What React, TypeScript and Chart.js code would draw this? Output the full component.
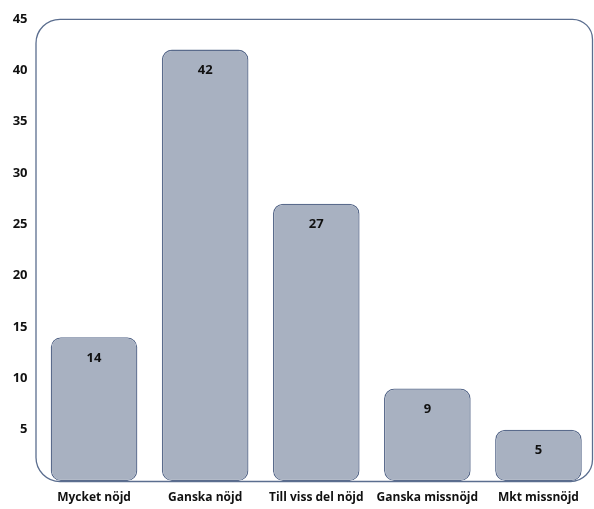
import React, { useEffect, useRef } from "react";
import { Chart, registerables } from "chart.js";

Chart.register(...registerables);

const categories = ["Mycket nöjd", "Ganska nöjd", "Till viss del nöjd", "Ganska missnöjd", "Mkt missnöjd"];
const values = [14, 42, 27, 9, 5];
const yTicks = [0, 5, 10, 15, 20, 25, 30, 35, 40, 45];

const FONT = "'Open Sans', 'DejaVu Sans', sans-serif";

const framePlugin = {
  id: "frame",
  beforeDatasetsDraw(chart: any) {
    const { ctx, chartArea } = chart;
    const l = chartArea.left - 2.5;
    const r = chartArea.right - 1.5;
    const t = chartArea.top + 0.5;
    const b = chartArea.bottom + 0.5;
    ctx.save();
    ctx.strokeStyle = "#5b6e8f";
    ctx.lineWidth = 1.3;
    ctx.beginPath();
    ctx.roundRect(l, t, r - l, b - t, [24, 20, 22, 24]);
    ctx.stroke();
    ctx.restore();
  },
};

const labelPlugin = {
  id: "vlabels",
  afterDatasetsDraw(chart: any) {
    const { ctx } = chart;
    const meta = chart.getDatasetMeta(0);
    ctx.save();
    ctx.font = `700 13px ${FONT}`;
    ctx.fillStyle = "#111";
    ctx.textAlign = "center";
    ctx.textBaseline = "middle";
    meta.data.forEach((bar: any, i: number) => {
      ctx.fillText(String(values[i]), bar.x, bar.y + 21);
    });
    ctx.restore();
  },
};

export default function App() {
  const ref = useRef<HTMLCanvasElement>(null);
  useEffect(() => {
    document.body.style.margin = "0";
    const chart = new Chart(ref.current!, {
      type: "bar",
      data: {
        labels: categories,
        datasets: [
          {
            data: values,
            backgroundColor: "#a8b1c1",
            borderColor: "#5a6b8c",
            borderWidth: 1.3,
            borderRadius: 10,
            borderSkipped: false,
            categoryPercentage: 1,
            barPercentage: 0.78,
          },
        ],
      },
      options: {
        responsive: false,
        animation: false,
        layout: { padding: { top: 17, right: 0, left: 0, bottom: 0 } },
        plugins: { legend: { display: false }, tooltip: { enabled: false } },
        scales: {
          x: {
            grid: { display: false, drawTicks: false },
            border: { display: false },
            ticks: {
              color: "#111",
              font: { family: FONT, size: 12, weight: "700" },
              padding: 9,
              maxRotation: 0,
              autoSkip: false,
            },
            afterFit(scale: any) {
              scale.height = 28;
            },
          },
          y: {
            min: 0,
            max: 45,
            afterBuildTicks(scale: any) {
              scale.ticks = yTicks.map((v) => ({ value: v }));
            },
            grid: { display: false, drawTicks: false },
            border: { display: false },
            ticks: {
              color: "#111",
              font: { family: FONT, size: 13, weight: "700" },
              padding: 11,
              callback: (v: any) => (v === 0 ? "" : String(v)),
            },
            afterFit(scale: any) {
              scale.width = 38.5;
            },
          },
        },
      },
      plugins: [framePlugin, labelPlugin],
    });
    return () => chart.destroy();
  }, []);
  return (
    <div style={{ width: 594, height: 509 }}>
      <canvas ref={ref} width={594} height={509} style={{ display: "block" }} />
    </div>
  );
}
